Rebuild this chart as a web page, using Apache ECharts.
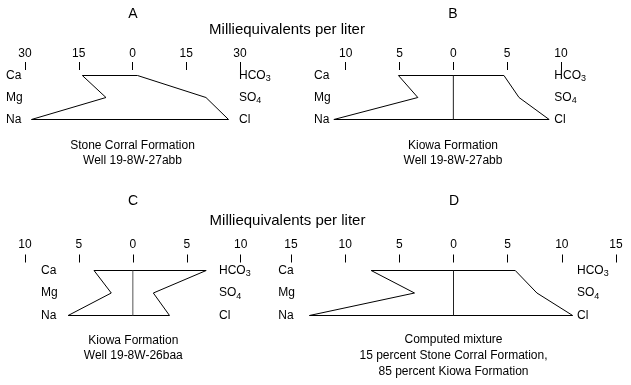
<!DOCTYPE html>
<html>
<head>
<meta charset="utf-8">
<script src="https://cdn.jsdelivr.net/npm/echarts@6/dist/echarts.min.js"></script>
<style>
html,body{margin:0;padding:0;background:#fff;}
#chart{width:631px;height:385px;}
</style>
</head>
<body>
<div id="chart"></div>
<script>
// ---------- data ----------
const cationNames = ['Ca', 'Mg', 'Na'];
const anionNames = ['HCO3', 'SO4', 'Cl'];
const panelLetters = ['A', 'B', 'C', 'D'];
const axisTitle = 'Milliequivalents per liter';
const axisMax = [30, 10, 10, 15];
const tickStep = [15, 5, 5, 5];

const cationsA = [14.0, 7.4, 28.2];
const anionsA = [1.4, 20.5, 26.8];
const cationsB = [5.1, 3.3, 11.1];
const anionsB = [4.7, 6.1, 8.9];
const cationsC = [3.6, 2.0, 6.0];
const anionsC = [6.8, 1.9, 3.4];
const cationsD = [7.6, 3.6, 13.3];
const anionsD = [5.7, 7.7, 11.0];

const captionA = ['Stone Corral Formation', 'Well 19-8W-27abb'];
const captionB = ['Kiowa Formation', 'Well 19-8W-27abb'];
const captionC = ['Kiowa Formation', 'Well 19-8W-26baa'];
const captionD = ['Computed mixture', '15 percent Stone Corral Formation,', '85 percent Kiowa Formation'];
const showCenterLine = [false, true, true, true];

// ---------- layout ----------
const FONT = "'Liberation Sans', Arial, Helvetica, sans-serif";
const panels = [
  {cat: cationsA, an: anionsA, cap: captionA, grid: {left: 25, width: 215, top: 75.5, height: 44},
   axOffset: 5.5, labMargin: 10.5, leftMargin: 19, rightMargin: -1, letter: [133, 14], capX: 132.5, capY: [145.5, 161]},
  {cat: cationsB, an: anionsB, cap: captionB, grid: {left: 345.7, width: 215.3, top: 75.5, height: 44},
   axOffset: 5.5, labMargin: 10.5, leftMargin: 31.7, rightMargin: -6.7, letter: [453, 14], capX: 453, capY: [145.5, 161]},
  {cat: cationsC, an: anionsC, cap: captionC, grid: {left: 25, width: 215.7, top: 270.5, height: 45},
   axOffset: 8, labMargin: 12, leftMargin: -16, rightMargin: -21.7, letter: [133, 201], capX: 133.3, capY: [340.5, 356]},
  {cat: cationsD, an: anionsD, cap: captionD, grid: {left: 291, width: 325, top: 270.5, height: 45},
   axOffset: 8, labMargin: 12, leftMargin: 12.7, rightMargin: -39, letter: [454, 201], capX: 453.5, capY: [340, 356, 372]}
];
const titleRows = [{x: 287, y: 30}, {x: 287.5, y: 221}];

const grid = [], xAxis = [], yAxis = [], series = [], graphic = [];

function txt(x, y, s, size) {
  return {type: 'text', x: x, y: y, silent: true,
    style: {text: s, fontSize: size, fontFamily: FONT, fill: '#000',
      align: 'center', verticalAlign: 'middle', textAlign: 'center', textVerticalAlign: 'middle'}};
}

panels.forEach((p, i) => {
  grid.push(Object.assign({containLabel: false}, p.grid));
  const m = axisMax[i];
  xAxis.push({
    type: 'value', gridIndex: i, position: 'top', min: -m, max: m, interval: tickStep[i],
    offset: p.axOffset,
    axisLine: {show: false}, splitLine: {show: false},
    axisTick: {show: true, length: 8, lineStyle: {color: '#000', width: 1}},
    axisLabel: {margin: p.labMargin, fontSize: 12, fontFamily: FONT, color: '#000',
      formatter: v => String(Math.abs(v))}
  });
  yAxis.push({
    type: 'category', gridIndex: i, position: 'left', data: cationNames, inverse: true, boundaryGap: false,
    axisLine: {show: false}, axisTick: {show: false}, splitLine: {show: false},
    axisLabel: {align: 'left', margin: p.leftMargin, fontSize: 12, fontFamily: FONT, color: '#000'}
  });
  yAxis.push({
    type: 'category', gridIndex: i, position: 'right', data: anionNames, inverse: true, boundaryGap: false,
    axisLine: {show: false}, axisTick: {show: false}, splitLine: {show: false},
    axisLabel: {align: 'left', margin: p.rightMargin, fontSize: 12, fontFamily: FONT, color: '#000',
      formatter: v => v.replace(/(\d)$/, '{s|$1}'),
      rich: {s: {fontSize: 9, fontFamily: FONT, color: '#000', padding: [7, 0, 0, 0]}}}
  });
  // Stiff polygon: cations to the left (negative), anions to the right
  const poly = [];
  for (let k = 0; k < 3; k++) poly.push([-p.cat[k], k]);
  for (let k = 2; k >= 0; k--) poly.push([p.an[k], k]);
  poly.push([-p.cat[0], 0]);
  series.push({
    type: 'line', xAxisIndex: i, yAxisIndex: 2 * i, data: poly, showSymbol: false, symbol: 'none',
    clip: false, silent: true, lineStyle: {color: '#000', width: 1}
  });
  if (showCenterLine[i]) {
    series.push({
      type: 'line', xAxisIndex: i, yAxisIndex: 2 * i, data: [[0, 0], [0, 2]], showSymbol: false, symbol: 'none',
      silent: true, lineStyle: {color: i === 2 ? '#555' : '#222', width: 1}
    });
  }
  graphic.push(txt(p.letter[0], p.letter[1], panelLetters[i], 14));
  p.cap.forEach((line, j) => graphic.push(txt(p.capX, p.capY[j], line, 12)));
});
titleRows.forEach(t => graphic.push(txt(t.x, t.y, axisTitle, 15)));

const chart = echarts.init(document.getElementById('chart'), null, {renderer: 'canvas'});
chart.setOption({
  animation: false,
  backgroundColor: '#fff',
  textStyle: {fontFamily: FONT},
  grid, xAxis, yAxis, series, graphic
});
</script>
</body>
</html>
